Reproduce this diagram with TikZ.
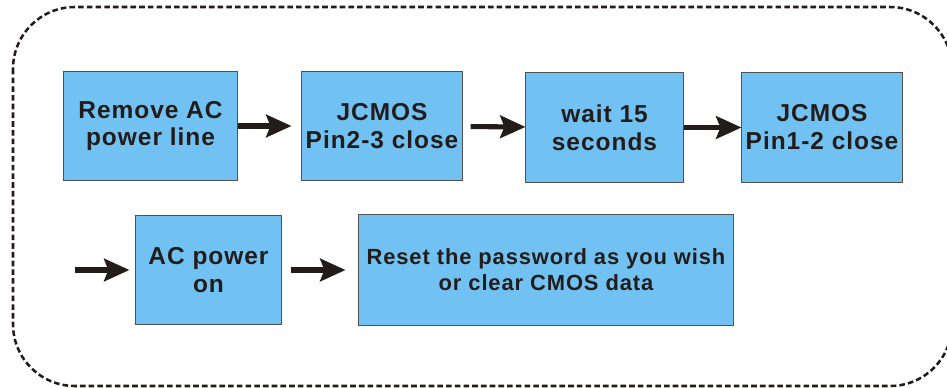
\documentclass[tikz,border=0pt]{standalone}
\usepackage{fontspec}
\setmainfont{Liberation Sans}
\newfontfamily\stepfont[LetterSpace=4]{Liberation Sans}
\usepackage{xcolor}
\usepackage{tikz}
\usetikzlibrary{arrows.meta}
\definecolor{boxblue}{RGB}{113,194,242}
\definecolor{boxedge}{RGB}{80,80,80}
\definecolor{inkdark}{RGB}{35,28,26}

\begin{document}
\begin{tikzpicture}[x=0.025cm, y=-0.025cm,
  stepbox/.style={draw=boxedge, line width=0.7pt, fill=boxblue, text=inkdark,
    minimum height=2.725cm, inner sep=0pt, align=center,
    font=\stepfont\bfseries\fontsize{17.4}{19.9}\selectfont},
  flow/.style={-{Stealth[length=18pt, width=16pt, inset=3pt]}, draw=inkdark,
    fill=inkdark, line width=3.6pt},
  frame/.style={draw=inkdark, line width=1.8pt, dash pattern=on 4pt off 2.2pt,
    rounded corners=44pt}]

\useasboundingbox (0,0) rectangle (947,388);

%% dashed outline
\draw[frame] (13,7) rectangle (952,386);

%% first row
\node[stepbox, minimum width=4.325cm] (remove) at (150.5,126) {Remove AC\\power line};
\node[stepbox, minimum width=4.0cm]   (pin23)  at (382,126)   {JCMOS\\Pin2-3 close};
\node[stepbox, minimum width=3.925cm] (wait)   at (604.5,127.5) {wait 15\\seconds};
\node[stepbox, minimum width=4.0cm]   (pin12)  at (822,127.5) {JCMOS\\Pin1-2 close};

%% second row
\coordinate (cont) at (75,270);
\node[stepbox, minimum width=3.625cm] (acon)  at (208.5,270) {AC power\\on};
\node[stepbox, minimum width=9.35cm, minimum height=2.75cm,
      font=\stepfont\bfseries\fontsize{15.6}{18.5}\selectfont] (reset) at (546,270)
      {Reset the password as you wish\\or clear CMOS data};

%% arrows
\draw[flow, shorten >=7.1pt] (remove) -- (pin23);
\draw[flow, shorten <=5.7pt] (pin23) -- (wait);
\draw[flow] (wait) -- (pin12);
\draw[flow, shorten >=4.3pt] (cont) -- (acon);
\draw[flow, shorten <=6.4pt, shorten >=9.2pt] (acon) -- (reset);
\end{tikzpicture}
\end{document}
